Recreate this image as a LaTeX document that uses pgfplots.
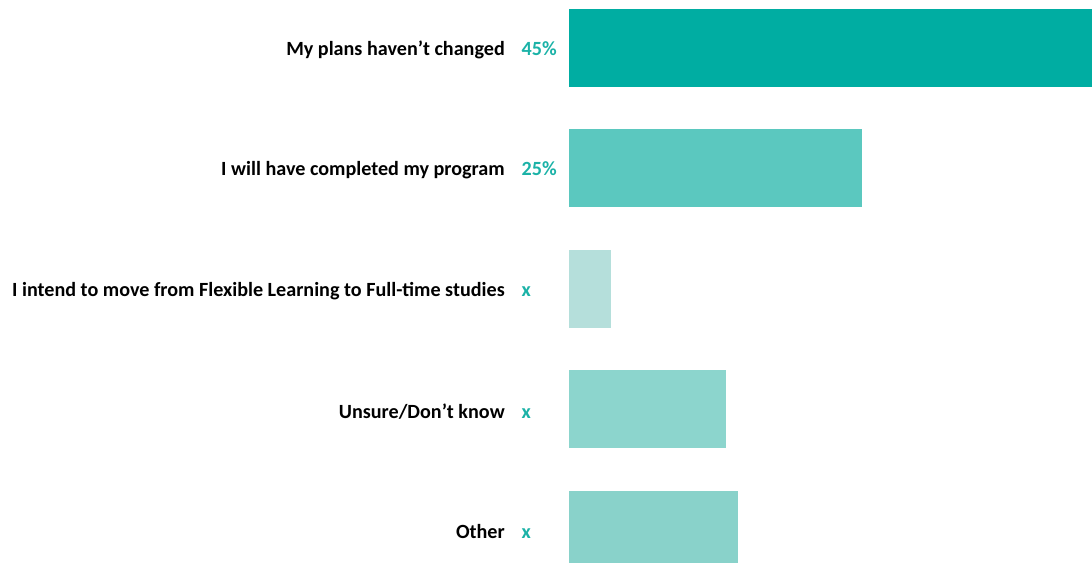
\documentclass[border=0pt]{standalone}
\usepackage{pgfplots}
\pgfplotsset{compat=1.18}
\usepackage{fontspec}
\setmainfont{Carlito}
\definecolor{bar1}{HTML}{00ADA2}
\definecolor{bar2}{HTML}{5BC8BF}
\definecolor{bar3}{HTML}{B5DFDB}
\definecolor{bar4}{HTML}{8CD5CD}
\definecolor{bar5}{HTML}{89D2CA}
\definecolor{valcol}{HTML}{1BB2A7}
\newcommand{\lab}[2]{#1\hspace{12.75pt}\makebox[35.25pt][l]{\color{valcol}#2}}
\begin{document}
\begin{tikzpicture}
\begin{axis}[
    scale only axis,
    width=392.25pt, height=422.25pt,
    xbar, bar shift=0pt, bar width=0.647,
    xmin=0, xmax=45,
    ymin=-0.398, ymax=4.275, y dir=reverse,
    axis line style={draw=none},
    major tick length=0pt,
    xtick=\empty,
    ytick={0,1,2,3,4},
    yticklabels={
        {\lab{My plans haven’t changed}{45\%}},
        {\lab{I will have completed my program}{25\%}},
        {\lab{I intend to move from Flexible Learning to Full-time studies}{x}},
        {\lab{Unsure/Don’t know}{x}},
        {\lab{Other}{x}}},
    yticklabel style={font=\fontsize{15.1pt}{18pt}\selectfont\bfseries, inner sep=0pt, anchor=east, yshift=-1.5pt},
    clip=true,
]
\addplot[fill=bar1, draw=none] coordinates {(45,0)};
\addplot[fill=bar2, draw=none] coordinates {(25.2,1)};
\addplot[fill=bar3, draw=none] coordinates {(3.6,2)};
\addplot[fill=bar4, draw=none] coordinates {(13.5,3)};
\addplot[fill=bar5, draw=none] coordinates {(14.5,4)};
\coordinate (bl) at (rel axis cs:0,1);
\coordinate (tr) at (rel axis cs:1,0);
\end{axis}
\pgfresetboundingbox
\path[use as bounding box] ([xshift=-426.75pt]bl) rectangle (tr);
\end{tikzpicture}
\end{document}
